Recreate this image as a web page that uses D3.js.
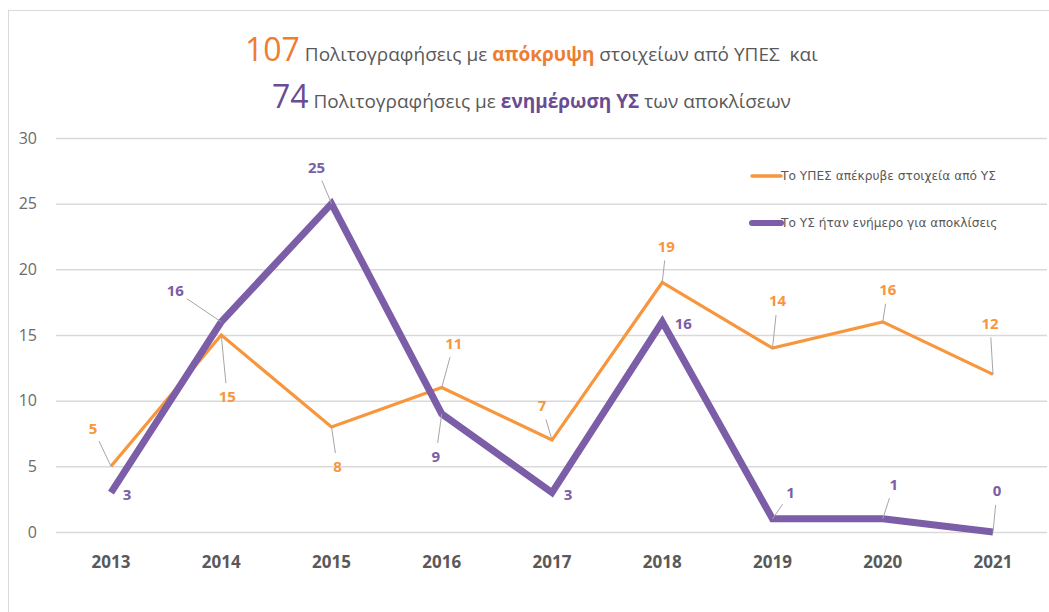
<!DOCTYPE html>
<html>
<head>
<meta charset="utf-8">
<script src="https://cdn.jsdelivr.net/npm/d3@7"></script>
<style>
  body { margin: 0; background: #fff; }
  svg { display: block; font-family: "Open Sans", "Noto Sans", sans-serif; }
</style>
</head>
<body>
<div id="container"></div>
<script>
// Δεδομένα
var years = [2013, 2014, 2015, 2016, 2017, 2018, 2019, 2020, 2021];
var hidden = [5, 15, 8, 11, 7, 19, 14, 16, 12];   // Το ΥΠΕΣ απέκρυβε στοιχεία
var informed = [3, 16, 25, 9, 3, 16, 1, 1, 0];    // Το ΥΣ ήταν ενήμερο
var yTicks = [0, 5, 10, 15, 20, 25, 30];
var seriesNames = ["Το ΥΠΕΣ απέκρυβε στοιχεία από ΥΣ", "Το ΥΣ ήταν ενήμερο για αποκλίσεις"];

// θέσεις ετικετών (dx, dy σε px από το σημείο)
var hiddenLabelPos = [[-18, -38], [6, 62], [6, 40], [12, -44], [-10, -34], [4, -36], [5, -47], [5, -32], [-3, -51]];
var informedLabelPos = [[16, 2], [-46, -31], [-15, -36], [-6, 43], [16, 2], [21, 2], [18, -26], [11, -34], [4, -41]];

var width = 1049, height = 612;

var svg = d3.select("#container").append("svg")
  .attr("width", width)
  .attr("height", height);

// πλαίσιο
svg.append("rect")
  .attr("x", 8.5).attr("y", 10.5)
  .attr("width", width + 10).attr("height", height - 10)
  .attr("fill", "#fff")
  .attr("stroke", "#d9d9d9");

var x = d3.scalePoint()
  .domain(years)
  .range([111, 993]);

var y = d3.scaleLinear()
  .domain([0, 30])
  .range([532, 138]);

// γραμμές πλέγματος
svg.selectAll(".grid")
  .data(yTicks)
  .enter().append("line")
  .attr("x1", 56).attr("x2", 1047)
  .attr("y1", function(d) { return y(d) + 0.5 })
  .attr("y2", function(d) { return y(d) + 0.5 })
  .attr("stroke", "#d9d9d9")
  .attr("stroke-width", 1.5);

svg.selectAll(".ytick")
  .data(yTicks)
  .enter().append("text")
  .attr("x", 37)
  .attr("y", function(d) { return y(d) })
  .attr("dy", "0.35em")
  .attr("text-anchor", "end")
  .attr("font-size", 16)
  .attr("fill", "#6b6b6b")
  .text(function(d) { return d });

svg.selectAll(".xtick")
  .data(years)
  .enter().append("text")
  .attr("x", function(d) { return x(d) })
  .attr("y", 568)
  .attr("text-anchor", "middle")
  .attr("font-size", 17)
  .attr("font-weight", "bold")
  .attr("fill", "#595959")
  .text(function(d) { return d });

var line = d3.line()
  .x(function(d, i) { return x(years[i]) })
  .y(function(d) { return y(d) });

var orange = "#f7963c", purple = "#7b5ea7";

svg.append("path")
  .datum(hidden)
  .attr("d", line)
  .attr("fill", "none")
  .attr("stroke", orange)
  .attr("stroke-width", 3.2);

svg.append("path")
  .datum(informed)
  .attr("d", line)
  .attr("fill", "none")
  .attr("stroke", purple)
  .attr("stroke-width", 7);

// ετικέτες δεδομένων με γραμμές οδηγούς
function labels(values, pos, color) {
  values.forEach(function(v, i) {
    var px = x(years[i]), py = y(v);
    var lx = px + pos[i][0], ly = py + pos[i][1];
    var dist = Math.sqrt(pos[i][0] * pos[i][0] + pos[i][1] * pos[i][1]);
    if (dist > 30) {
      var k = (dist - 14) / dist;
      svg.append("line")
        .attr("x1", px).attr("y1", py)
        .attr("x2", px + pos[i][0] * k).attr("y2", py + pos[i][1] * k)
        .attr("stroke", "#a6a6a6")
        .attr("stroke-width", 1);
    }
    svg.append("text")
      .attr("x", lx).attr("y", ly)
      .attr("dy", "0.35em")
      .attr("text-anchor", "middle")
      .attr("font-size", 15)
      .attr("font-weight", "bold")
      .attr("fill", color)
      .text(v);
  });
}
labels(hidden, hiddenLabelPos, orange);
labels(informed, informedLabelPos, purple);

// υπόμνημα
var legend = svg.selectAll(".legend")
  .data(seriesNames)
  .enter().append("g")
  .attr("transform", function(d, i) { return "translate(752," + (176 + i * 47) + ")" });

legend.append("line")
  .attr("x1", 0).attr("x2", 29)
  .attr("stroke", function(d, i) { return i == 0 ? orange : purple })
  .attr("stroke-width", function(d, i) { return i == 0 ? 3.5 : 6 })
  .attr("stroke-linecap", "round");

legend.append("text")
  .attr("x", 29)
  .attr("dy", "0.35em")
  .attr("font-family", "DejaVu Sans")
  .attr("font-size", 12.2)
  .attr("fill", "#595959")
  .text(function(d) { return d });

// τίτλος
var t1 = svg.append("text")
  .attr("x", 245).attr("y", 61)
  .attr("fill", "#595959")
  .attr("font-size", 19);
t1.append("tspan").attr("font-size", 32).attr("fill", "#ed7d31").text("107");
t1.append("tspan").text(" Πολιτογραφήσεις με ");
t1.append("tspan").attr("font-weight", "bold").attr("fill", "#ed7d31").text("απόκρυψη");
t1.append("tspan").attr("xml:space", "preserve").text(" στοιχείων από ΥΠΕΣ  και");

var t2 = svg.append("text")
  .attr("x", 272).attr("y", 108)
  .attr("fill", "#595959")
  .attr("font-size", 19);
t2.append("tspan").attr("font-size", 32).attr("fill", "#6a4c93").text("74");
t2.append("tspan").text(" Πολιτογραφήσεις με ");
t2.append("tspan").attr("font-weight", "bold").attr("fill", "#6a4c93").text("ενημέρωση ΥΣ");
t2.append("tspan").text(" των αποκλίσεων");
</script>
</body>
</html>
